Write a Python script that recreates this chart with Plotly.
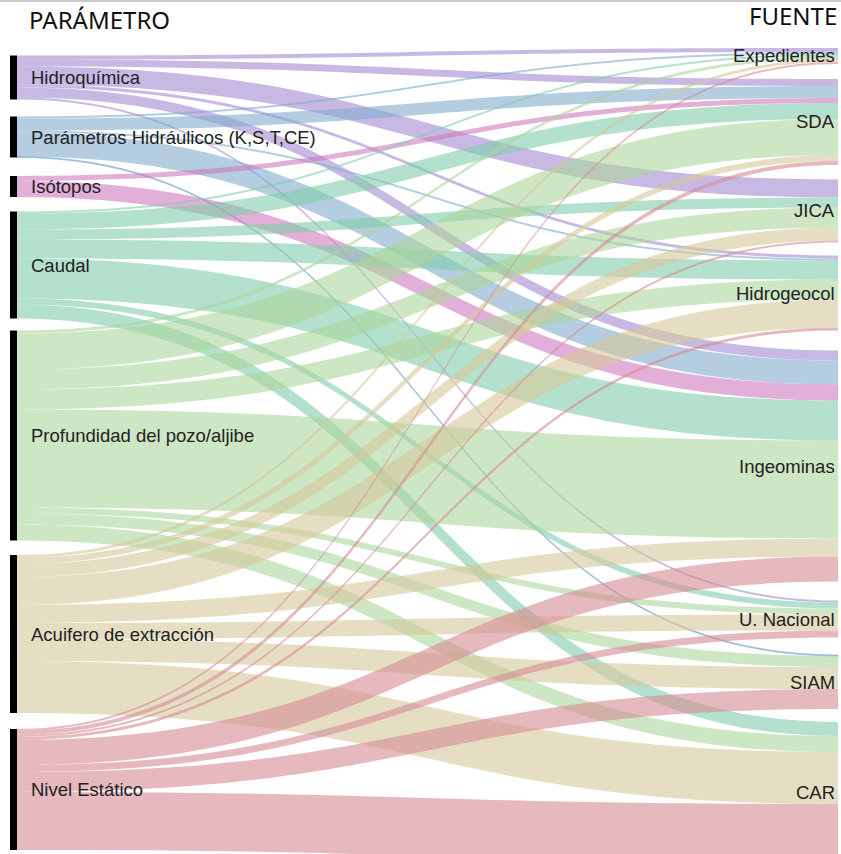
import plotly.graph_objects as go

# ---------------- data ----------------
parametros = ["Hidroquímica", "Parámetros Hidráulicos (K,S,T,CE)", "Isótopos", "Caudal",
              "Profundidad del pozo/aljibe", "Acuifero de extracción", "Nivel Estático"]
fuentes = ["Expedientes", "SDA", "JICA", "Hidrogeocol", "Ingeominas",
           "U. Nacional", "SIAM", "CAR"]

# link values, one list per parámetro, in the order of `fuentes`
hidroquimica = [4, 7, 18, 3, 10, 2, 0, 0]
hidraulicos = [2, 12, 0, 2, 24, 0, 1, 0]
isotopos = [0, 5, 0, 0, 16, 0, 0, 0]
caudal = [2, 16, 10, 19, 40, 6, 0, 14]
profundidad = [3, 36, 20, 20, 98, 6, 11, 16]
acuifero = [3, 6, 13, 28, 18, 16, 22, 52]
nivel = [2, 4, 2, 3, 25, 7, 20, 58]

valores = [hidroquimica, hidraulicos, isotopos, caudal, profundidad, acuifero, nivel]

# ---------------- style / layout ----------------
W, H = 841, 854
link_colors = [
    "rgba(163,138,210,0.6)",  # Hidroquímica
    "rgba(130,172,205,0.6)",  # Parámetros Hidráulicos
    "rgba(205,122,188,0.6)",  # Isótopos
    "rgba(130,205,172,0.6)",  # Caudal
    "rgba(172,213,155,0.6)",  # Profundidad
    "rgba(213,200,155,0.6)",  # Acuifero
    "rgba(213,138,147,0.6)",  # Nivel Estático
]
# node centres in pixels
left_cy = [77.5, 137, 186.5, 265, 435.5, 634, 789.5]
right_cy = [56, 122, 211, 293, 466, 619, 682, 792]
left_cx, right_cx = 13.5, 841.5
thickness = 7
label_font = dict(family="Liberation Sans, Arial, sans-serif", size=18.5, color="#222222")


def fx(px):
    return px / W


def fy(py):
    return py / H


node_x = [fx(left_cx)] * len(parametros) + [fx(right_cx)] * len(fuentes)
node_y = [fy(c) for c in left_cy] + [fy(c) for c in right_cy]
node_colors = ["black"] * len(parametros) + ["rgba(0,0,0,0)"] * len(fuentes)
names = parametros + fuentes

src, tgt, val, col = [], [], [], []
for i, row in enumerate(valores):
    for j, v in enumerate(row):
        if v > 0:
            src.append(i)
            tgt.append(len(parametros) + j)
            val.append(v)
            col.append(link_colors[i])

total = sum(val)
pad = (H - total) / (len(fuentes) - 1)  # makes 1 value unit = 1 px

fig = go.Figure(go.Sankey(
    arrangement="fixed",
    node=dict(label=[""] * len(names), customdata=names,
              hovertemplate="%{customdata}: %{value}<extra></extra>",
              x=node_x, y=node_y, pad=pad, thickness=thickness,
              color=node_colors, line=dict(width=0)),
    link=dict(source=src, target=tgt, value=val, color=col),
))

annotations = []
for name, cy in zip(parametros, left_cy):
    annotations.append(dict(text=name, x=fx(29), y=1 - fy(cy), xref="paper", yref="paper",
                            xanchor="left", yanchor="middle", showarrow=False,
                            font=label_font))
for name, cy in zip(fuentes, right_cy):
    annotations.append(dict(text=name, x=fx(836.5), y=1 - fy(cy), xref="paper", yref="paper",
                            xanchor="right", yanchor="middle", showarrow=False,
                            font=label_font))
annotations += [
    dict(text="PARÁMETRO", x=fx(27), y=1 - fy(19), xref="paper", yref="paper",
         xanchor="left", yanchor="middle", showarrow=False,
         font=dict(family="Noto Sans", size=24, color="#111111")),
    dict(text="FUENTE", x=fx(839), y=1 - fy(15), xref="paper", yref="paper",
         xanchor="right", yanchor="middle", showarrow=False,
         font=dict(family="Noto Sans", size=24, color="#111111")),
]

fig.update_layout(
    width=W, height=H,
    margin=dict(l=0, r=0, t=0, b=0),
    paper_bgcolor="white",
    annotations=annotations,
    shapes=[dict(type="line", xref="paper", yref="paper", x0=0, x1=1,
                 y0=1 - 1 / H, y1=1 - 1 / H, line=dict(color="#c8c8c8", width=2))],
)

fig.write_html(
    "out.html",
    config={"displayModeBar": False},
    post_script="document.body.style.margin='0';document.body.style.overflow='hidden';",
)
